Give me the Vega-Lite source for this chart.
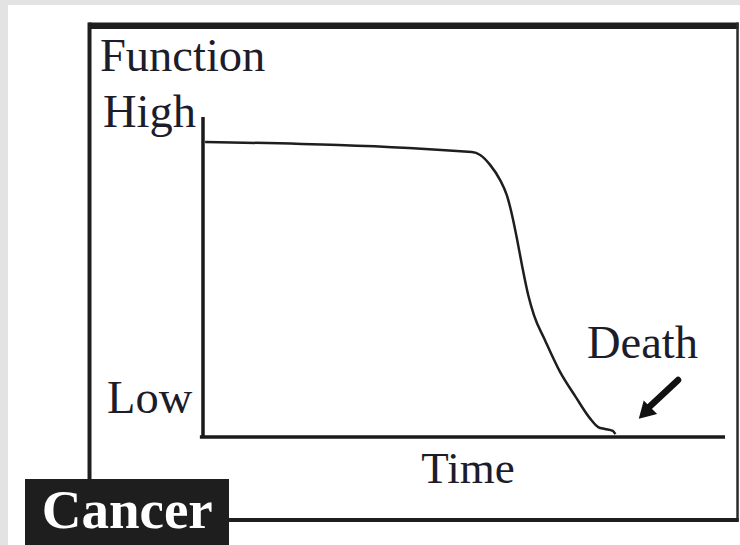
{
  "$schema": "https://vega.github.io/schema/vega-lite/v6.json",
  "width": 522,
  "height": 319,
  "autosize": {"type": "none"},
  "padding": {"left": 203, "top": 117, "right": 15, "bottom": 109},
  "background": "white",
  "config": {"view": {"stroke": null}},
  "datasets": {
    "curve": [
      {"t": 0.4, "f": 92.2},
      {"t": 51.5, "f": 89.0},
      {"t": 53.1, "f": 88.1},
      {"t": 55.0, "f": 85.0},
      {"t": 56.9, "f": 80.3},
      {"t": 58.2, "f": 75.5},
      {"t": 59.2, "f": 69.3},
      {"t": 60.2, "f": 61.4},
      {"t": 61.1, "f": 53.6},
      {"t": 62.3, "f": 44.2},
      {"t": 63.4, "f": 37.9},
      {"t": 65.5, "f": 30.1},
      {"t": 68.4, "f": 20.1},
      {"t": 71.3, "f": 12.5},
      {"t": 74.1, "f": 5.6},
      {"t": 75.7, "f": 2.8},
      {"t": 77.0, "f": 2.2},
      {"t": 78.5, "f": 1.6},
      {"t": 79.0, "f": 0.6}
    ],
    "labels": [
      {"label": "Function", "t": -19.73, "f": 114.4},
      {"label": "High", "t": -19.16, "f": 96.9},
      {"label": "Low", "t": -18.39, "f": 7.2},
      {"label": "Death", "t": 73.56, "f": 24.45}
    ]
  },
  "encoding": {
    "x": {"field": "t", "type": "quantitative", "scale": {"domain": [0, 100], "nice": false, "zero": false}, "axis": null},
    "y": {"field": "f", "type": "quantitative", "scale": {"domain": [0, 100], "nice": false, "zero": false}, "axis": null}
  },
  "layer": [
    {
      "data": {"values": [
        {"t": -38.89, "t2": -37.36, "f": 136.7, "f2": -34.2},
        {"t": -38.89, "t2": 102.9, "f": 136.7, "f2": 135.1}
      ]},
      "mark": {"type": "rect", "color": "#e3e3e3"},
      "encoding": {"x2": {"field": "t2"}, "y2": {"field": "f2"}}
    },
    {
      "data": {"values": [{"t": -21.9, "t2": 102.6, "f": 128.6, "f2": 128.6}]},
      "mark": {"type": "rule", "color": "#1e1e1e", "strokeWidth": 6.5},
      "encoding": {"x2": {"field": "t2"}, "y2": {"field": "f2"}}
    },
    {
      "data": {"values": [{"t": -21.74, "t2": -21.74, "f": 129.6, "f2": -13.5}]},
      "mark": {"type": "rule", "color": "#1e1e1e", "strokeWidth": 4},
      "encoding": {"x2": {"field": "t2"}, "y2": {"field": "f2"}}
    },
    {
      "data": {"values": [{"t": 102.4, "t2": 102.4, "f": 129.6, "f2": -26.9}]},
      "mark": {"type": "rule", "color": "#2a2a2a", "strokeWidth": 2.5},
      "encoding": {"x2": {"field": "t2"}, "y2": {"field": "f2"}}
    },
    {
      "data": {"values": [{"t": 4.9, "t2": 102.6, "f": -26.3, "f2": -26.3}]},
      "mark": {"type": "rule", "color": "#1e1e1e", "strokeWidth": 4},
      "encoding": {"x2": {"field": "t2"}, "y2": {"field": "f2"}}
    },
    {
      "data": {"values": [{"t": -34.1, "t2": 4.98, "f": -13.48, "f2": -34.3}]},
      "mark": {"type": "rect", "color": "#1e1e1e"},
      "encoding": {"x2": {"field": "t2"}, "y2": {"field": "f2"}}
    },
    {
      "data": {"values": [{"label": "Cancer", "t": -30.9, "f": -28.84}]},
      "mark": {"type": "text", "align": "left", "baseline": "alphabetic", "font": "Liberation Serif", "fontWeight": "bold", "fontSize": 55, "color": "white"},
      "encoding": {"text": {"field": "label"}}
    },
    {
      "data": {"values": [{"t": 0, "t2": 0, "f": -0.4, "f2": 100}]},
      "mark": {"type": "rule", "color": "#1a1a1a", "strokeWidth": 3.5},
      "encoding": {"x2": {"field": "t2"}, "y2": {"field": "f2"}}
    },
    {
      "data": {"values": [{"t": -0.6, "t2": 100, "f": -0.3, "f2": -0.3}]},
      "mark": {"type": "rule", "color": "#1a1a1a", "strokeWidth": 3.5},
      "encoding": {"x2": {"field": "t2"}, "y2": {"field": "f2"}}
    },
    {
      "data": {"name": "curve"},
      "mark": {"type": "line", "color": "#1e1e1e", "strokeWidth": 2.5, "interpolate": "monotone"},
      "encoding": {}
    },
    {
      "data": {"values": [{"t": 91.0, "t2": 85.3, "f": 17.55, "f2": 8.8}]},
      "mark": {"type": "rule", "color": "#111111", "strokeWidth": 6.5, "strokeCap": "round"},
      "encoding": {"x2": {"field": "t2"}, "y2": {"field": "f2"}}
    },
    {
      "data": {"values": [{"t": 84.6, "f": 7.2}]},
      "mark": {"type": "point", "shape": "triangle-down", "angle": 45, "size": 360, "filled": true, "color": "#111111", "opacity": 1},
      "encoding": {}
    },
    {
      "data": {"name": "labels"},
      "mark": {"type": "text", "align": "left", "baseline": "alphabetic", "font": "Liberation Serif", "fontSize": 46.5, "color": "#1c1c2a"},
      "encoding": {"text": {"field": "label"}}
    },
    {
      "data": {"values": [{"label": "Time", "t": 50.77, "f": -14.73}]},
      "mark": {"type": "text", "align": "center", "baseline": "alphabetic", "font": "Liberation Serif", "fontSize": 45, "color": "#1c1c2a"},
      "encoding": {"text": {"field": "label"}}
    }
  ]
}
